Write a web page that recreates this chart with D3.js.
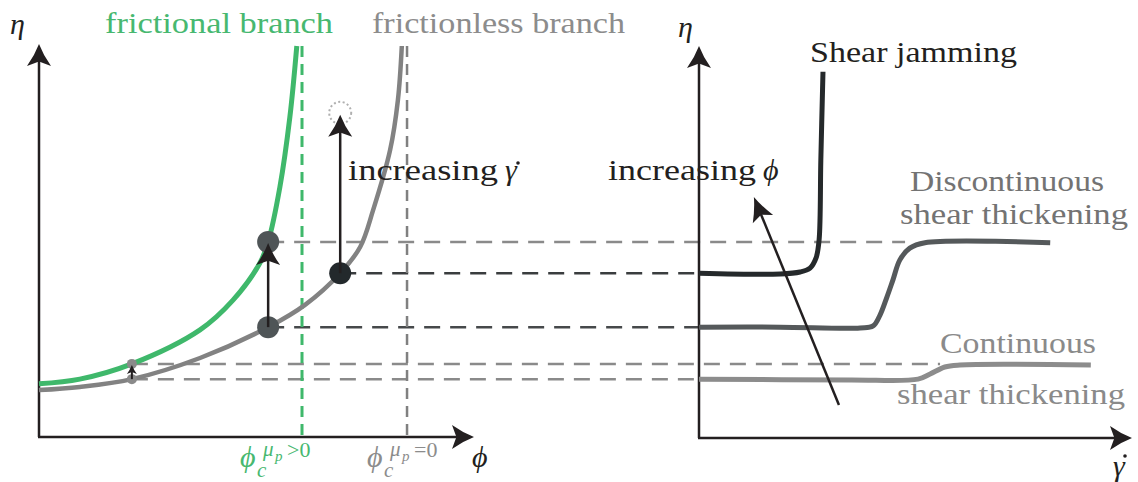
<!DOCTYPE html>
<html>
<head>
<meta charset="utf-8">
<script src="https://cdn.jsdelivr.net/npm/d3@7"></script>
<style>
  html, body { margin: 0; padding: 0; background: #fff; }
  svg { display: block; }
</style>
</head>
<body>
<script>
// left panel: viscosity vs packing fraction (arbitrary units 0..1)
var frictionalPhi = [0, 0.094, 0.214, 0.371, 0.447, 0.509, 0.528, 0.555, 0.578, 0.594];
var frictionalEta = [0.136, 0.148, 0.187, 0.274, 0.350, 0.445, 0.499, 0.639, 0.818, 1.0];
var frictionlessPhi = [0, 0.094, 0.214, 0.371, 0.528, 0.613, 0.694, 0.740, 0.770, 0.809, 0.827, 0.836];
var frictionlessEta = [0.120, 0.128, 0.148, 0.202, 0.281, 0.338, 0.419, 0.486, 0.581, 0.734, 0.862, 1.0];
var phiCritical = [0.606, 0.848];               // frictional, frictionless

// states marked on the branches
var statePhi = [0.214, 0.214, 0.528, 0.528, 0.694];
var stateEta = [0.148, 0.187, 0.281, 0.499, 0.419];

// right panel: viscosity vs shear rate
var jamRate = [0, 0.188, 0.234, 0.257, 0.271, 0.278, 0.282, 0.287];
var jamEta  = [0.419, 0.417, 0.422, 0.432, 0.458, 0.504, 0.708, 0.934];
var dstRate = [0, 0.188, 0.373, 0.403, 0.419, 0.435, 0.449, 0.465, 0.488, 0.523, 0.813];
var dstEta  = [0.281, 0.281, 0.279, 0.284, 0.312, 0.358, 0.402, 0.453, 0.483, 0.497, 0.497];
var cstRate = [0, 0.350, 0.507, 0.535, 0.569, 0.604, 0.907];
var cstEta  = [0.148, 0.146, 0.148, 0.161, 0.179, 0.184, 0.184];

// dashed links from a state on the left to the right panel
var linkEta   = [0.499, 0.419, 0.281, 0.187, 0.148];
var linkPhi   = [0.528, 0.694, 0.528, 0.214, 0.214];
var linkRate  = [0.477, 0, 0, 0.558, 0];

var FONT = "'Liberation Serif', 'Times New Roman', serif";
var INK = "#231f20";

var w = 1138, h = 482;

var xL = d3.scaleLinear().domain([0, 1]).range([39, 473]);
var xR = d3.scaleLinear().domain([0, 1]).range([699, 1131]);
var y  = d3.scaleLinear().domain([0, 1]).range([437, 46]);

var svg = d3.select("body").append("svg")
  .attr("width", w)
  .attr("height", h);

var line = d3.line().curve(d3.curveCatmullRom.alpha(0.5));

function pts(xs, ys, sx){
  return xs.map(function(v, i){ return [sx(v), y(ys[i])]; });
}

// stealth style arrow head, tip at (x,y), pointing along angle (deg)
function arrowHead(g, x, yy, angle, len, half){
  var notch = len * 0.2;
  var d = "M0,0" +
    "Q" + (-len * 0.5) + "," + (-half * 0.35) + " " + (-len) + "," + (-half) +
    "L" + (-len + notch) + ",0" +
    "L" + (-len) + "," + half +
    "Q" + (-len * 0.5) + "," + (half * 0.35) + " 0,0Z";
  g.append("path")
    .attr("d", d)
    .attr("fill", INK)
    .attr("transform", "translate(" + x + "," + yy + ") rotate(" + angle + ")");
}

function arrow(g, x1, y1, x2, y2, width, len, half){
  var ang = Math.atan2(y2 - y1, x2 - x1);
  g.append("line")
    .attr("x1", x1).attr("y1", y1)
    .attr("x2", x2 - Math.cos(ang) * len * 0.7)
    .attr("y2", y2 - Math.sin(ang) * len * 0.7)
    .attr("stroke", INK)
    .attr("stroke-width", width);
  arrowHead(g, x2, y2, ang * 180 / Math.PI, len, half);
}

function label(txt, x, yy, opts){
  opts = opts || {};
  var t = svg.append("text")
    .attr("x", x)
    .attr("y", yy)
    .attr("font-family", FONT)
    .attr("font-size", opts.size || 30)
    .attr("fill", opts.color || INK)
    .attr("font-style", opts.italic ? "italic" : null)
    .text(txt);
  if(opts.len){
    t.attr("textLength", opts.len).attr("lengthAdjust", "spacingAndGlyphs");
  }
  return t;
}

// dot accent over a symbol (shear rate)
function dotAccent(x, yy){
  svg.append("circle")
    .attr("cx", x).attr("cy", yy).attr("r", 1.8)
    .attr("fill", INK);
}

//dashed guide lines (under everything else)
var guides = svg.append("g");
var linkColor = ["#8a8a8a", "#3a3d3f", "#46494b", "#8a8a8a", "#8a8a8a"];
linkEta.forEach(function(e, i){
  guides.append("line")
    .attr("x1", xL(linkPhi[i]))
    .attr("x2", xR(linkRate[i]))
    .attr("y1", y(e))
    .attr("y2", y(e))
    .attr("stroke", linkColor[i])
    .attr("stroke-width", 2.5)
    .attr("stroke-dasharray", "16,10");
});

guides.append("line")
  .attr("x1", xL(phiCritical[0])).attr("x2", xL(phiCritical[0]))
  .attr("y1", y(1)).attr("y2", y(0))
  .attr("stroke", "#3fb86b")
  .attr("stroke-width", 3)
  .attr("stroke-dasharray", "11,7");

guides.append("line")
  .attr("x1", xL(phiCritical[1])).attr("x2", xL(phiCritical[1]))
  .attr("y1", y(1)).attr("y2", y(0))
  .attr("stroke", "#808080")
  .attr("stroke-width", 2.5)
  .attr("stroke-dasharray", "11,7");

//axes
var axes = svg.append("g");
axes.append("line")
  .attr("x1", xL(0)).attr("x2", xL(0)).attr("y1", y(0)).attr("y2", 60)
  .attr("stroke", INK).attr("stroke-width", 2.5);
axes.append("line")
  .attr("x1", xL(0) - 1).attr("x2", 460).attr("y1", y(0)).attr("y2", y(0))
  .attr("stroke", INK).attr("stroke-width", 2.5);
arrowHead(axes, xL(0), 44, -90, 22, 12);
arrowHead(axes, 474, y(0), 0, 22, 12);

axes.append("line")
  .attr("x1", xR(0)).attr("x2", xR(0)).attr("y1", y(0) + 1).attr("y2", 62)
  .attr("stroke", INK).attr("stroke-width", 2.5);
axes.append("line")
  .attr("x1", xR(0) - 1).attr("x2", 1118).attr("y1", y(0) + 1).attr("y2", y(0) + 1)
  .attr("stroke", INK).attr("stroke-width", 2.5);
arrowHead(axes, xR(0), 46, -90, 22, 12);
arrowHead(axes, 1132, y(0) + 1, 0, 22, 12);

//branches
var curves = svg.append("g").attr("fill", "none").attr("stroke-linecap", "butt");
curves.append("path")
  .attr("d", line(pts(frictionlessPhi, frictionlessEta, xL)))
  .attr("stroke", "#828282").attr("stroke-width", 4.5);
curves.append("path")
  .attr("d", line(pts(frictionalPhi, frictionalEta, xL)))
  .attr("stroke", "#3fb86b").attr("stroke-width", 5);

curves.append("path")
  .attr("d", line(pts(cstRate, cstEta, xR)))
  .attr("stroke", "#8c8c8c").attr("stroke-width", 5);
curves.append("path")
  .attr("d", line(pts(dstRate, dstEta, xR)))
  .attr("stroke", "#55595b").attr("stroke-width", 5);
curves.append("path")
  .attr("d", line(pts(jamRate, jamEta, xR)))
  .attr("stroke", "#25292b").attr("stroke-width", 5);

//state dots
var dotR = [5, 5, 11, 11, 11];
var dotFill = ["#8a8a8a", "#8a8a8a", "#4f5557", "#4f5557", "#23292c"];
svg.append("g").selectAll("circle")
  .data(statePhi)
  .enter()
    .append("circle")
    .attr("cx", function(d){ return xL(d); })
    .attr("cy", function(d, i){ return y(stateEta[i]); })
    .attr("r", function(d, i){ return dotR[i]; })
    .attr("fill", function(d, i){ return dotFill[i]; });

// target state above the frictionless branch
svg.append("circle")
  .attr("cx", xL(0.694)).attr("cy", y(0.829)).attr("r", 11)
  .attr("fill", "none").attr("stroke", "#b0b0b0")
  .attr("stroke-width", 2).attr("stroke-dasharray", "2,2.5");

//arrows
var arrows = svg.append("g");
arrow(arrows, xL(0.214), y(0.148), xL(0.214), y(0.187) + 1, 2, 9, 5);
arrow(arrows, xL(0.528), y(0.281), xL(0.528), y(0.496), 2.5, 22, 12);
arrow(arrows, xL(0.694), y(0.419), xL(0.694), y(0.824), 2.5, 22, 12);
arrow(arrows, xR(0.324), y(0.082), xR(0.127), y(0.614), 2.5, 24, 11);

//labels
label("frictional branch", 105, 33, {color: "#47b870", len: 228});
label("frictionless branch", 372, 33, {color: "#8c8c8c", len: 253});
label("η", 10, 34, {italic: true});
label("η", 678, 37, {italic: true});
label("Shear jamming", 810, 62, {len: 207});
label("increasing", 348, 180, {len: 150});
label("γ", 505, 180, {italic: true});
dotAccent(518, 163);
label("increasing", 608, 180, {len: 148});
label("ϕ", 763, 180, {italic: true});
label("Discontinuous", 910, 191, {color: "#737373", len: 194});
label("shear thickening", 900, 224, {color: "#737373", len: 228});
label("Continuous", 940, 353, {color: "#8a8a8a", len: 156});
label("shear thickening", 897, 404, {color: "#8a8a8a", len: 228});
label("ϕ", 472, 467, {italic: true});
label("γ", 1113, 476, {italic: true});
dotAccent(1125, 456);

function criticalLabel(x0, rel, color){
  label("ϕ", x0, 467, {italic: true, color: color});
  label("c", x0 + 17, 477, {italic: true, color: color, size: 21});
  label("μ", x0 + 23, 456, {italic: true, color: color, size: 21});
  label("p", x0 + 35, 461, {italic: true, color: color, size: 15});
  label(rel, x0 + 47, 457, {color: color, size: 22});
}
criticalLabel(240, ">0", "#47b870");
criticalLabel(367, "=0", "#8c8c8c");
</script>
</body>
</html>
